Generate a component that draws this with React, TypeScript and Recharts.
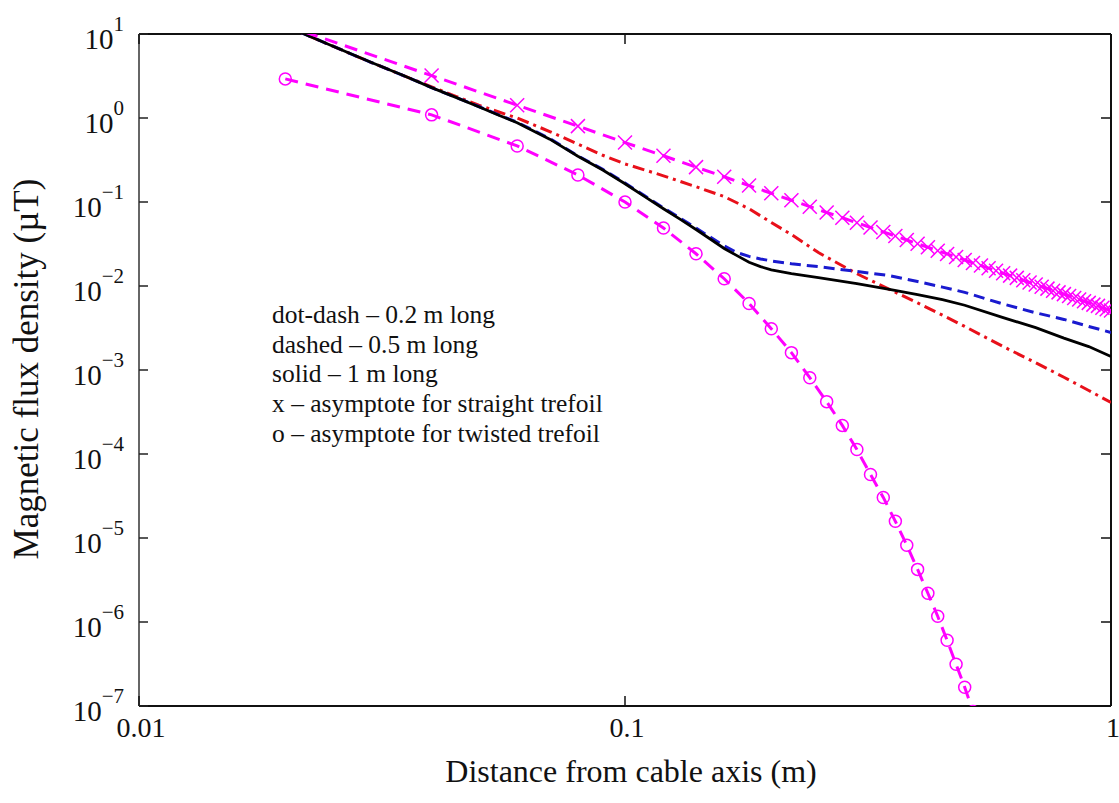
import React from 'react';
import { ComposedChart, Line, XAxis, YAxis, ReferenceLine, Customized } from 'recharts';

// ---- data (x in m, B in µT) ----
const solid1m = [
  { x: 0.02, y: 12.5 }, { x: 0.025, y: 7.2 }, { x: 0.03, y: 4.6 }, { x: 0.035, y: 3.2 },
  { x: 0.04, y: 2.3 }, { x: 0.045, y: 1.75 }, { x: 0.05, y: 1.36 }, { x: 0.055, y: 1.08 },
  { x: 0.06, y: 0.88 }, { x: 0.07, y: 0.56 }, { x: 0.08, y: 0.35 }, { x: 0.09, y: 0.24 },
  { x: 0.1, y: 0.165 }, { x: 0.11, y: 0.115 }, { x: 0.12, y: 0.083 }, { x: 0.13, y: 0.062 },
  { x: 0.14, y: 0.047 }, { x: 0.15, y: 0.036 }, { x: 0.16, y: 0.028 }, { x: 0.17, y: 0.023 },
  { x: 0.18, y: 0.0192 }, { x: 0.19, y: 0.017 }, { x: 0.2, y: 0.0156 }, { x: 0.22, y: 0.014 },
  { x: 0.25, y: 0.0126 }, { x: 0.3, y: 0.0107 }, { x: 0.35, y: 0.0091 }, { x: 0.4, y: 0.0079 },
  { x: 0.45, y: 0.0069 }, { x: 0.5, y: 0.0059 }, { x: 0.6, y: 0.0042 }, { x: 0.7, y: 0.0032 },
  { x: 0.8, y: 0.0024 }, { x: 0.9, y: 0.0019 }, { x: 1.0, y: 0.00145 },
];

const dashed05m = [
  { x: 0.02, y: 12.5 }, { x: 0.025, y: 7.2 }, { x: 0.03, y: 4.6 }, { x: 0.035, y: 3.2 },
  { x: 0.04, y: 2.3 }, { x: 0.045, y: 1.75 }, { x: 0.05, y: 1.37 }, { x: 0.055, y: 1.09 },
  { x: 0.06, y: 0.89 }, { x: 0.07, y: 0.57 }, { x: 0.08, y: 0.355 }, { x: 0.09, y: 0.245 },
  { x: 0.1, y: 0.168 }, { x: 0.11, y: 0.118 }, { x: 0.12, y: 0.085 }, { x: 0.13, y: 0.064 },
  { x: 0.14, y: 0.049 }, { x: 0.15, y: 0.038 }, { x: 0.16, y: 0.03 }, { x: 0.17, y: 0.025 },
  { x: 0.18, y: 0.0225 }, { x: 0.19, y: 0.021 }, { x: 0.2, y: 0.0199 }, { x: 0.22, y: 0.0184 },
  { x: 0.25, y: 0.017 }, { x: 0.3, y: 0.0149 }, { x: 0.35, y: 0.0133 }, { x: 0.4, y: 0.0113 },
  { x: 0.45, y: 0.0097 }, { x: 0.5, y: 0.0084 }, { x: 0.6, y: 0.0061 }, { x: 0.7, y: 0.0048 },
  { x: 0.8, y: 0.004 }, { x: 0.9, y: 0.0033 }, { x: 1.0, y: 0.0028 },
];

const dotDash02m = [
  { x: 0.02, y: 12.5 }, { x: 0.025, y: 7.2 }, { x: 0.03, y: 4.6 }, { x: 0.035, y: 3.2 },
  { x: 0.04, y: 2.35 }, { x: 0.045, y: 1.8 }, { x: 0.05, y: 1.42 }, { x: 0.055, y: 1.18 },
  { x: 0.06, y: 1.0 }, { x: 0.07, y: 0.69 }, { x: 0.08, y: 0.49 }, { x: 0.09, y: 0.36 },
  { x: 0.1, y: 0.284 }, { x: 0.11, y: 0.24 }, { x: 0.12, y: 0.205 }, { x: 0.14, y: 0.152 },
  { x: 0.16, y: 0.116 }, { x: 0.18, y: 0.083 }, { x: 0.2, y: 0.057 }, { x: 0.22, y: 0.041 },
  { x: 0.25, y: 0.025 }, { x: 0.3, y: 0.014 }, { x: 0.35, y: 0.0091 }, { x: 0.4, y: 0.0063 },
  { x: 0.45, y: 0.0045 }, { x: 0.5, y: 0.0033 }, { x: 0.6, y: 0.0019 }, { x: 0.7, y: 0.00122 },
  { x: 0.8, y: 0.00082 }, { x: 0.9, y: 0.00057 }, { x: 1.0, y: 0.00041 },
];

const straightAsym = [
  { x: 0.02, y: 12.7 }, { x: 0.04, y: 3.2 }, { x: 0.06, y: 1.42 }, { x: 0.08, y: 0.8 },
  { x: 0.1, y: 0.51 }, { x: 0.12, y: 0.355 }, { x: 0.14, y: 0.26 }, { x: 0.16, y: 0.2 },
  { x: 0.18, y: 0.157 }, { x: 0.2, y: 0.127 }, { x: 0.22, y: 0.105 }, { x: 0.24, y: 0.088 },
  { x: 0.26, y: 0.075 }, { x: 0.28, y: 0.065 }, { x: 0.3, y: 0.0565 }, { x: 0.32, y: 0.0497 },
  { x: 0.34, y: 0.044 }, { x: 0.36, y: 0.0393 }, { x: 0.38, y: 0.0353 }, { x: 0.4, y: 0.0318 },
  { x: 0.42, y: 0.0289 }, { x: 0.44, y: 0.0263 }, { x: 0.46, y: 0.0241 }, { x: 0.48, y: 0.0221 },
  { x: 0.5, y: 0.0204 }, { x: 0.52, y: 0.0188 }, { x: 0.54, y: 0.0175 }, { x: 0.56, y: 0.0163 },
  { x: 0.58, y: 0.0152 }, { x: 0.6, y: 0.0142 }, { x: 0.62, y: 0.0133 }, { x: 0.64, y: 0.0125 },
  { x: 0.66, y: 0.0117 }, { x: 0.68, y: 0.011 }, { x: 0.7, y: 0.0104 }, { x: 0.72, y: 0.0098 },
  { x: 0.74, y: 0.0093 }, { x: 0.76, y: 0.0088 }, { x: 0.78, y: 0.0084 }, { x: 0.8, y: 0.008 },
  { x: 0.82, y: 0.0076 }, { x: 0.84, y: 0.0072 }, { x: 0.86, y: 0.0069 }, { x: 0.88, y: 0.0066 },
  { x: 0.9, y: 0.0063 }, { x: 0.92, y: 0.006 }, { x: 0.94, y: 0.0058 }, { x: 0.96, y: 0.0055 },
  { x: 0.98, y: 0.0053 }, { x: 1.0, y: 0.0051 },
];

const twistedAsym = [
  { x: 0.02, y: 2.92 }, { x: 0.04, y: 1.09 }, { x: 0.06, y: 0.465 }, { x: 0.08, y: 0.21 },
  { x: 0.1, y: 0.1 }, { x: 0.12, y: 0.049 }, { x: 0.14, y: 0.0242 }, { x: 0.16, y: 0.0122 },
  { x: 0.18, y: 0.0062 }, { x: 0.2, y: 0.0031 }, { x: 0.22, y: 0.00161 }, { x: 0.24, y: 0.00081 },
  { x: 0.26, y: 0.00042 }, { x: 0.28, y: 0.000219 }, { x: 0.3, y: 0.000113 }, { x: 0.32, y: 5.7e-5 },
  { x: 0.34, y: 3.04e-5 }, { x: 0.36, y: 1.58e-5 }, { x: 0.38, y: 8.2e-6 }, { x: 0.4, y: 4.23e-6 },
  { x: 0.42, y: 2.2e-6 }, { x: 0.44, y: 1.17e-6 }, { x: 0.46, y: 6.05e-7 }, { x: 0.48, y: 3.14e-7 },
  { x: 0.5, y: 1.67e-7 }, { x: 0.52, y: 8.6e-8 },
];

const xTicks = [0.01, 0.1, 1];
const yTicks = [1e1, 1e0, 1e-1, 1e-2, 1e-3, 1e-4, 1e-5, 1e-6, 1e-7];
const xTickLabels = ['0.01', '0.1', '1'];
const noteLines = [
  'dot-dash – 0.2 m long',
  'dashed – 0.5 m long',
  'solid – 1 m long',
  'x – asymptote for straight trefoil',
  'o – asymptote for twisted trefoil',
];

// ---- layout ----
const W = 1119;
const H = 803;
const M = { top: 34, right: 8, left: 0, bottom: 0 };
const Y_AXIS_W = 139;
const X_AXIS_H = 97;
const PLOT_LEFT = M.left + Y_AXIS_W;
const PLOT_RIGHT = W - M.right;
const PLOT_TOP = M.top;
const PLOT_BOTTOM = H - M.bottom - X_AXIS_H;
const FONT = '"Liberation Serif", "Times New Roman", Times, serif';
const MAGENTA = '#ff00ff';

const YTick = (props: any) => {
  const { y, payload } = props;
  const exp = Math.round(Math.log10(payload.value));
  const expStr = exp < 0 ? '\u2212' + String(-exp) : String(exp);
  return (
    <g>
      <line x1={PLOT_LEFT} x2={PLOT_LEFT + 9} y1={y} y2={y} stroke="#222" strokeWidth={1.5} />
      <line x1={PLOT_RIGHT - 10} x2={PLOT_RIGHT} y1={y} y2={y} stroke="#111" strokeWidth={1.5} />
      <text x={124} y={y + 15} textAnchor="end" fontFamily={FONT} fontSize={29} fill="#111">
        10
        <tspan fontSize={21} dy={-18}>{expStr}</tspan>
      </text>
    </g>
  );
};

const XTick = (props: any) => {
  const { x, payload, index } = props;
  const label = xTickLabels[index] ?? String(payload.value);
  return (
    <g>
      <line x1={x} x2={x} y1={PLOT_BOTTOM} y2={PLOT_BOTTOM - 10} stroke="#111" strokeWidth={1.5} />
      <line x1={x} x2={x} y1={PLOT_TOP} y2={PLOT_TOP + 10} stroke="#111" strokeWidth={1.5} />
      <text x={x + 2} y={PLOT_BOTTOM + 31} textAnchor="middle" fontFamily={FONT} fontSize={28} fill="#111">
        {label}
      </text>
    </g>
  );
};

const CrossDot = (props: any) => {
  const { cx, cy, index } = props;
  if (cx == null || cy == null) return <g key={index} />;
  const s = 7;
  return (
    <g key={index}>
      <line x1={cx - s} y1={cy - s} x2={cx + s} y2={cy + s} stroke={MAGENTA} strokeWidth={1.5} />
      <line x1={cx - s} y1={cy + s} x2={cx + s} y2={cy - s} stroke={MAGENTA} strokeWidth={1.5} />
    </g>
  );
};

const CircleDot = (props: any) => {
  const { cx, cy, index } = props;
  if (cx == null || cy == null) return <g key={index} />;
  return <circle key={index} cx={cx} cy={cy} r={6} fill="none" stroke={MAGENTA} strokeWidth={1.5} />;
};

const Annotations = () => (
  <g fontFamily={FONT} fill="#111">
    {noteLines.map((t, i) => (
      <text key={i} x={272} y={323 + i * 29.7} fontSize={25.5}>
        {t}
      </text>
    ))}
    <text x={38} y={369} fontSize={35} textAnchor="middle" transform="rotate(-90, 38, 369)">
      Magnetic flux density (µT)
    </text>
    <text x={631} y={782} fontSize={32} textAnchor="middle">
      Distance from cable axis (m)
    </text>
  </g>
);

export default function App() {
  return (
    <div style={{ position: 'absolute', left: 0, top: 0, width: W, height: H, background: '#fff' }}>
      <ComposedChart width={W} height={H} margin={M}>
        <XAxis
          type="number"
          dataKey="x"
          scale="log"
          domain={[0.01, 1]}
          ticks={xTicks}
          allowDataOverflow
          height={X_AXIS_H}
          tickSize={0}
          tickMargin={0}
          tick={<XTick />}
          axisLine={{ stroke: '#111', strokeWidth: 2 }}
          tickLine={false}
          interval={0}
        />
        <YAxis
          type="number"
          dataKey="y"
          scale="log"
          domain={[1e-7, 10]}
          ticks={yTicks}
          allowDataOverflow
          width={Y_AXIS_W}
          tickSize={0}
          tickMargin={0}
          tick={<YTick />}
          axisLine={{ stroke: '#666', strokeWidth: 2 }}
          tickLine={false}
          interval={0}
        />
        <ReferenceLine y={10} stroke="#111" strokeWidth={2} />
        <ReferenceLine x={1} stroke="#111" strokeWidth={2} />
        <Line data={dotDash02m} dataKey="y" type="linear" stroke="#e8101a" strokeWidth={3}
          strokeDasharray="12 5 3 5" dot={false} isAnimationActive={false} />
        <Line data={dashed05m} dataKey="y" type="linear" stroke="#1a1acf" strokeWidth={3}
          strokeDasharray="11 6" dot={false} isAnimationActive={false} />
        <Line data={solid1m} dataKey="y" type="linear" stroke="#000" strokeWidth={2.8}
          dot={false} isAnimationActive={false} />
        <Line data={twistedAsym} dataKey="y" type="linear" stroke={MAGENTA} strokeWidth={3}
          strokeDasharray="13 8" dot={<CircleDot />} isAnimationActive={false} />
        <Line data={straightAsym} dataKey="y" type="linear" stroke={MAGENTA} strokeWidth={3}
          strokeDasharray="13 8" dot={<CrossDot />} isAnimationActive={false} />
        <Customized component={<Annotations />} />
      </ComposedChart>
    </div>
  );
}
